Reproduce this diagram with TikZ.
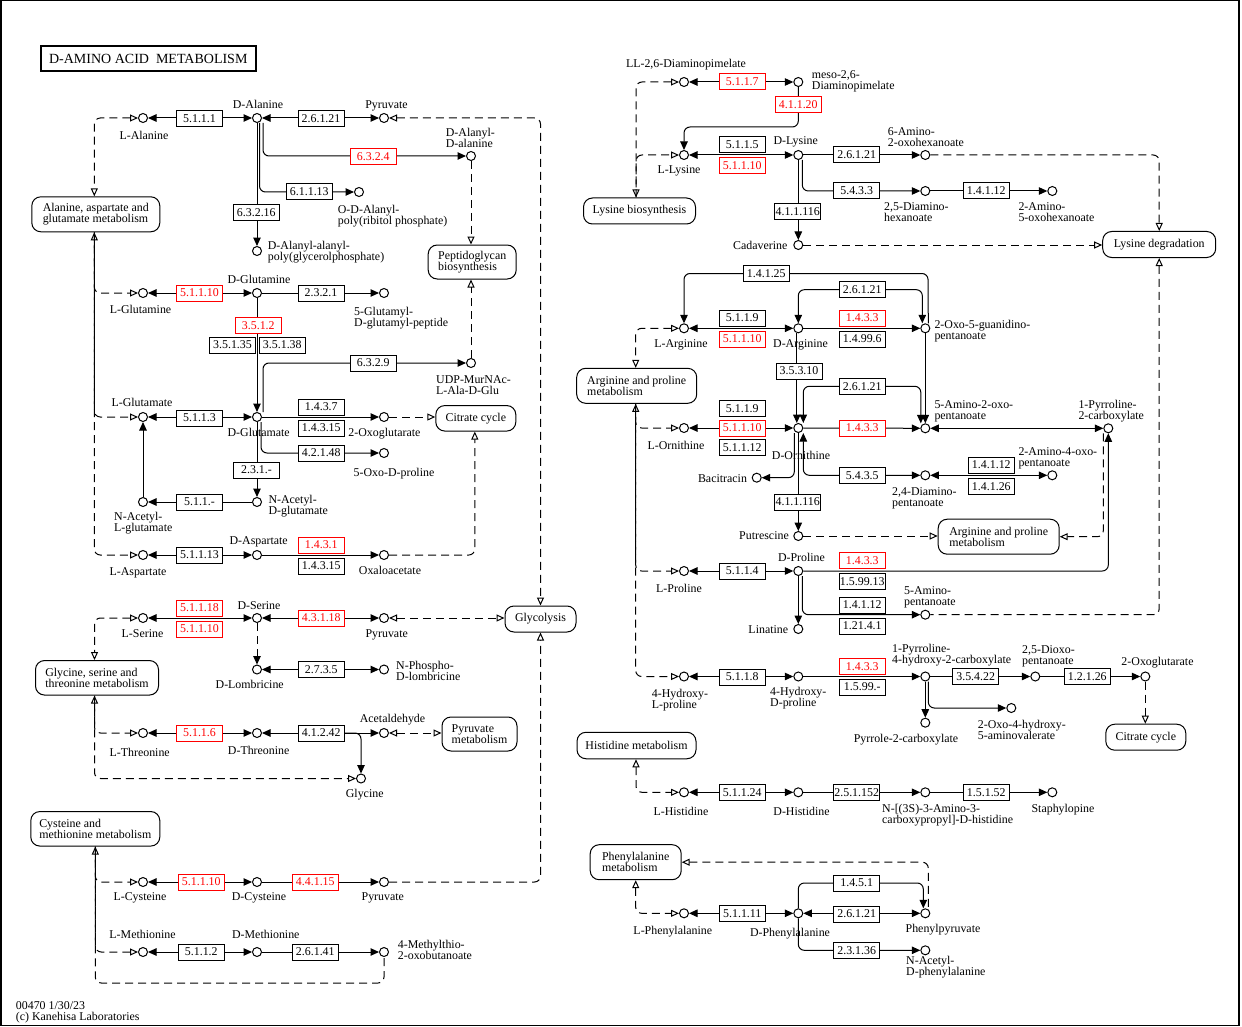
\documentclass[tikz,border=0pt]{standalone}
\usepackage{fontspec}
\setmainfont{Liberation Serif}
\usetikzlibrary{arrows.meta}
\pgfdeclarelayer{bg}
\pgfsetlayers{bg,main}
\newcommand\lblf{\fontsize{11.9pt}{11pt}\selectfont}
\newcommand\ttlf{\fontsize{14pt}{14pt}\selectfont}
\definecolor{keggred}{RGB}{255,0,0}
\tikzset{
  fillt/.tip={Triangle[length=8.5pt,width=7.5pt]},
  opent/.tip={Triangle[open,length=8pt,width=7pt]},
  cpd/.style={circle,draw,fill=white,minimum size=9pt,inner sep=0pt,line width=1pt},
  ec/.style={draw,fill=white,minimum width=46pt,minimum height=16pt,inner sep=0pt,line width=1pt,font=\lblf},
  ecr/.style={ec,draw=keggred,text=keggred},
  mapbox/.style={draw,fill=white,rounded corners=9pt,inner sep=0pt,line width=1pt,align=left,font=\lblf},
  lb/.style={inner sep=0pt,font=\lblf,anchor=base},
  lbm/.style={inner sep=0pt,font=\lblf,align=left,anchor=north west},
  rxn/.style={line width=1pt,rounded corners=6pt},
  lnk/.style={line width=1pt,dash pattern=on 8pt off 5pt,rounded corners=6pt},
}
\begin{document}
\begin{tikzpicture}[x=1pt,y=-1pt]
\useasboundingbox (0,0) rectangle (1242,1027);
\draw[line width=1.5pt] (0.75,0.75) rectangle (1238.8,1025.5);
\node[draw,line width=2pt,minimum width=215pt,minimum height=25pt,inner sep=0pt,font=\ttlf] (title) at (148.3,58.5) {D-AMINO ACID\ \ METABOLISM};

% ---------- compounds (left) ----------
\node[cpd] (LAla) at (143,118) {};
\node[cpd] (DAla) at (257,118) {};
\node[cpd] (PyrA) at (384,118) {};
\node[cpd] (DAlaAla) at (471,156) {};
\node[cpd] (ODAla) at (359,192) {};
\node[cpd] (DAAPG) at (257,251) {};
\node[cpd] (LGln) at (143,293) {};
\node[cpd] (DGln) at (257,293) {};
\node[cpd] (GluPep) at (384,293) {};
\node[cpd] (UDP) at (471,363) {};
\node[cpd] (LGlu) at (143,417) {};
\node[cpd] (DGlu) at (257,417) {};
\node[cpd] (OGa) at (384,417) {};
\node[cpd] (OxoPro) at (384,453) {};
\node[cpd] (NAcDGlu) at (257,502) {};
\node[cpd] (NAcLGlu) at (143,502) {};
\node[cpd] (LAsp) at (143,555) {};
\node[cpd] (DAsp) at (257,555) {};
\node[cpd] (OAA) at (384,555) {};
\node[cpd] (LSer) at (143,618) {};
\node[cpd] (DSer) at (257,618) {};
\node[cpd] (PyrB) at (384,618) {};
\node[cpd] (DLom) at (257,669.5) {};
\node[cpd] (NPL) at (384,669.5) {};
\node[cpd] (LThr) at (143,733) {};
\node[cpd] (DThr) at (257,733) {};
\node[cpd] (Acald) at (384,733) {};
\node[cpd] (Gly) at (361,778.5) {};
\node[cpd] (LCys) at (143,882) {};
\node[cpd] (DCys) at (257,882) {};
\node[cpd] (PyrC) at (384,882) {};
\node[cpd] (LMet) at (143,952) {};
\node[cpd] (DMet) at (257,952) {};
\node[cpd] (MTOB) at (384,952) {};

% ---------- compounds (right) ----------
\node[cpd] (LLDAP) at (684,82) {};
\node[cpd] (mDAP) at (798.3,82) {};
\node[cpd] (LLys) at (684,155) {};
\node[cpd] (DLys) at (798.3,155) {};
\node[cpd] (AOH) at (925.3,155) {};
\node[cpd] (DAH) at (925.3,191) {};
\node[cpd] (AOH2) at (1052.3,191) {};
\node[cpd] (Cad) at (798.3,245) {};
\node[cpd] (LArg) at (684,328.3) {};
\node[cpd] (DArg) at (798.3,328.3) {};
\node[cpd] (GOP) at (925.3,328.3) {};
\node[cpd] (LOrn) at (684,428) {};
\node[cpd] (DOrn) at (798.3,428) {};
\node[cpd] (AOP) at (925.3,428.3) {};
\node[cpd] (P2C) at (1108.3,428.3) {};
\node[cpd] (DAP) at (925.3,475.3) {};
\node[cpd] (AOP2) at (1052.3,475.3) {};
\node[cpd] (Bac) at (756.7,477.7) {};
\node[cpd] (Put) at (798.3,536) {};
\node[cpd] (LPro) at (684,571) {};
\node[cpd] (DPro) at (798.3,571) {};
\node[cpd] (APA) at (925.3,614.7) {};
\node[cpd] (Lin) at (798.3,629) {};
\node[cpd] (LHyp) at (684,676.5) {};
\node[cpd] (DHyp) at (798.3,676.5) {};
\node[cpd] (PHC) at (925.3,676.5) {};
\node[cpd] (DOP) at (1035.3,676.5) {};
\node[cpd] (OGb) at (1145.3,676.5) {};
\node[cpd] (P2Ca) at (925.3,722.7) {};
\node[cpd] (OHAV) at (1011.3,708) {};
\node[cpd] (LHis) at (684,792.3) {};
\node[cpd] (DHis) at (798.3,792.3) {};
\node[cpd] (NAC) at (925.3,792.3) {};
\node[cpd] (Staph) at (1052.3,792.3) {};
\node[cpd] (LPhe) at (684,913.3) {};
\node[cpd] (DPhe) at (798.3,913.3) {};
\node[cpd] (PPY) at (925.3,913.3) {};
\node[cpd] (NAcPhe) at (925.3,950.3) {};

% ---------- enzymes (left) ----------
\node[ec] (e1) at (199.5,118.5) {5.1.1.1};
\node[ec] (e2) at (321,118.5) {2.6.1.21};
\node[ecr] (e3) at (373.3,156.5) {6.3.2.4};
\node[ec] (e4) at (309.3,192) {6.1.1.13};
\node[ec] (e5) at (256.3,213) {6.3.2.16};
\node[ecr] (e6) at (199.5,293) {5.1.1.10};
\node[ec] (e7) at (321,293) {2.3.2.1};
\node[ecr] (e8) at (258.3,325.7) {3.5.1.2};
\node[ec] (e9) at (232.5,345) {3.5.1.35};
\node[ec] (e10) at (282.3,345) {3.5.1.38};
\node[ec] (e11) at (373.3,363) {6.3.2.9};
\node[ec] (e12) at (199.5,418) {5.1.1.3};
\node[ec] (e13) at (321.3,407) {1.4.3.7};
\node[ec] (e14) at (321.3,428) {1.4.3.15};
\node[ec] (e15) at (321.3,453) {4.2.1.48};
\node[ec] (e16) at (256.5,470) {2.3.1.-};
\node[ec] (e17) at (199.5,502) {5.1.1.-};
\node[ec] (e18) at (199.5,555) {5.1.1.13};
\node[ecr] (e19) at (321.3,545) {1.4.3.1};
\node[ec] (e20) at (321.3,566) {1.4.3.15};
\node[ecr] (e21) at (199.5,608) {5.1.1.18};
\node[ecr] (e22) at (199.5,629) {5.1.1.10};
\node[ecr] (e23) at (321.3,618) {4.3.1.18};
\node[ec] (e24) at (321.3,669.5) {2.7.3.5};
\node[ecr] (e25) at (199.5,733) {5.1.1.6};
\node[ec] (e26) at (321.3,733) {4.1.2.42};
\node[ecr] (e27) at (201.3,882) {5.1.1.10};
\node[ecr] (e28) at (315.3,882) {4.4.1.15};
\node[ec] (e29) at (201.3,952) {5.1.1.2};
\node[ec] (e30) at (315.3,952) {2.6.1.41};

% ---------- enzymes (right) ----------
\node[ecr] (e31) at (742.3,82) {5.1.1.7};
\node[ecr] (e32) at (798.3,105) {4.1.1.20};
\node[ec] (e33) at (742.3,145) {5.1.1.5};
\node[ecr] (e34) at (742.3,166) {5.1.1.10};
\node[ec] (e35) at (856.7,155) {2.6.1.21};
\node[ec] (e36) at (856.7,191) {5.4.3.3};
\node[ec] (e37) at (986.3,191) {1.4.1.12};
\node[ec] (e38) at (797.7,212) {4.1.1.116};
\node[ec] (e39) at (766.3,273.5) {1.4.1.25};
\node[ec] (e40) at (742.3,318) {5.1.1.9};
\node[ecr] (e41) at (742.3,339) {5.1.1.10};
\node[ec] (e42) at (862.3,289.7) {2.6.1.21};
\node[ecr] (e43) at (862.3,318) {1.4.3.3};
\node[ec] (e44) at (862.3,339) {1.4.99.6};
\node[ec] (e45) at (799,371) {3.5.3.10};
\node[ec] (e46) at (742.3,408.7) {5.1.1.9};
\node[ecr] (e47) at (742.3,428) {5.1.1.10};
\node[ec] (e48) at (742.3,447.3) {5.1.1.12};
\node[ec] (e49) at (862.3,386.3) {2.6.1.21};
\node[ecr] (e50) at (862.3,428) {1.4.3.3};
\node[ec] (e51) at (862.3,475.3) {5.4.3.5};
\node[ec] (e52) at (991.3,465) {1.4.1.12};
\node[ec] (e53) at (991.3,486.3) {1.4.1.26};
\node[ec] (e54) at (797.7,502) {4.1.1.116};
\node[ec] (e55) at (742.3,571) {5.1.1.4};
\node[ecr] (e56) at (862.3,560.7) {1.4.3.3};
\node[ec] (e57) at (862.3,581.7) {1.5.99.13};
\node[ec] (e58) at (862.3,605) {1.4.1.12};
\node[ec] (e59) at (862.3,626) {1.21.4.1};
\node[ec] (e60) at (742.3,677) {5.1.1.8};
\node[ecr] (e61) at (862.3,666.7) {1.4.3.3};
\node[ec] (e62) at (862.3,687) {1.5.99.-};
\node[ec] (e63) at (975.7,676.5) {3.5.4.22};
\node[ec] (e64) at (1087.3,676.5) {1.2.1.26};
\node[ec] (e65) at (742.3,792.3) {5.1.1.24};
\node[ec] (e66) at (856.7,792.3) {2.5.1.152};
\node[ec] (e67) at (986.3,792.3) {1.5.1.52};
\node[ec] (e68) at (742.3,913.3) {5.1.1.11};
\node[ec] (e69) at (856.7,883) {1.4.5.1};
\node[ec] (e70) at (856.7,914) {2.6.1.21};
\node[ec] (e71) at (856.7,950.8) {2.3.1.36};

% ---------- map boxes ----------
\node[mapbox,minimum width=128pt,minimum height=35pt] (AAG) at (95.8,214.3) {Alanine, aspartate and\\glutamate metabolism};
\node[mapbox,minimum width=88pt,minimum height=34pt] (Pept) at (472.2,262) {Peptidoglycan\\biosynthesis};
\node[mapbox,minimum width=80pt,minimum height=25.5pt] (CitL) at (475.8,418.3) {Citrate cycle};
\node[mapbox,minimum width=71pt,minimum height=26pt] (Glyco) at (540.5,619) {Glycolysis};
\node[mapbox,minimum width=123pt,minimum height=34.5pt] (GST) at (97,677.8) {Glycine, serine and\\threonine metabolism};
\node[mapbox,minimum width=75pt,minimum height=34pt] (PyrM) at (479.5,734) {Pyruvate\\metabolism};
\node[mapbox,minimum width=129pt,minimum height=34.5pt] (CysMet) at (95.3,828.8) {Cysteine and\\methionine metabolism};
\node[mapbox,minimum width=112pt,minimum height=26pt] (LysBio) at (639.5,211) {Lysine biosynthesis};
\node[mapbox,minimum width=113pt,minimum height=26pt] (LysDeg) at (1159.2,244.5) {Lysine degradation};
\node[mapbox,minimum width=120pt,minimum height=35pt] (ArgProL) at (636.7,385.8) {Arginine and proline\\metabolism};
\node[mapbox,minimum width=121pt,minimum height=35pt] (ArgProR) at (998.7,536.7) {Arginine and proline\\metabolism};
\node[mapbox,minimum width=80pt,minimum height=26pt] (CitR) at (1145.8,737.2) {Citrate cycle};
\node[mapbox,minimum width=119pt,minimum height=26.5pt] (HisM) at (636.5,745.5) {Histidine metabolism};
\node[mapbox,minimum width=91pt,minimum height=35pt] (PheM) at (635.7,862.2) {Phenylalanine\\metabolism};

% ---------- labels (left) ----------
\node[lb] (lLAla) at (144,139.3) {L-Alanine};
\node[lb] (lDAla) at (258,109) {D-Alanine};
\node[lb] (lPyrA) at (386.5,108.5) {Pyruvate};
\node[lb] (lDGln) at (259,283.3) {D-Glutamine};
\node[lb] (lLGln) at (140.5,313.3) {L-Glutamine};
\node[lb] (lLGlu) at (142,406.7) {L-Glutamate};
\node[lb] (lDGlu) at (258.7,436.7) {D-Glutamate};
\node[lb] (lOGa) at (384.5,436.7) {2-Oxoglutarate};
\node[lb] (lOxoPro) at (394,476) {5-Oxo-D-proline};
\node[lb] (lDAsp) at (258.7,544) {D-Aspartate};
\node[lb] (lLAsp) at (138,575.5) {L-Aspartate};
\node[lb] (lOAA) at (390,574) {Oxaloacetate};
\node[lb] (lDSer) at (259,609) {D-Serine};
\node[lb] (lLSer) at (142.5,637.3) {L-Serine};
\node[lb] (lPyrB) at (386.7,637.3) {Pyruvate};
\node[lb] (lDLom) at (249.7,688.3) {D-Lombricine};
\node[lb] (lLThr) at (139.7,756) {L-Threonine};
\node[lb] (lDThr) at (258.7,754.3) {D-Threonine};
\node[lb] (lAcald) at (392.5,722.7) {Acetaldehyde};
\node[lb] (lGly) at (364.7,797.3) {Glycine};
\node[lb] (lLCys) at (140,900) {L-Cysteine};
\node[lb] (lDCys) at (259,900) {D-Cysteine};
\node[lb] (lPyrC) at (382.8,900) {Pyruvate};
\node[lb] (lLMet) at (142.5,938.3) {L-Methionine};
\node[lb] (lDMet) at (265.8,938.3) {D-Methionine};
\node[lbm] (lDAlaAla) at (445.7,128) {D-Alanyl-\\D-alanine};
\node[lbm] (lODAla) at (337.7,205.5) {O-D-Alanyl-\\poly(ribitol phosphate)};
\node[lbm] (lDAAPG) at (267.7,241.5) {D-Alanyl-alanyl-\\poly(glycerolphosphate)};
\node[lbm] (lGluPep) at (354,307.5) {5-Glutamyl-\\D-glutamyl-peptide};
\node[lbm] (lUDP) at (436,375) {UDP-MurNAc-\\L-Ala-D-Glu};
\node[lbm] (lNAcDGlu) at (268.3,495) {N-Acetyl-\\D-glutamate};
\node[lbm] (lNAcLGlu) at (114,512.5) {N-Acetyl-\\L-glutamate};
\node[lbm] (lNPL) at (396,661.5) {N-Phospho-\\D-lombricine};
\node[lbm] (lMTOB) at (397.7,940.5) {4-Methylthio-\\2-oxobutanoate};
\node[lbm] (footer) at (15.7,1001) {00470 1/30/23\\(c) Kanehisa Laboratories};

% ---------- labels (right) ----------
\node[lb] (lLLDAP) at (686,67.7) {LL-2,6-Diaminopimelate};
\node[lb] (lLLys) at (679,174) {L-Lysine};
\node[lb] (lDLys) at (795.7,145) {D-Lysine};
\node[lb] (lCad) at (760.3,249.3) {Cadaverine};
\node[lb] (lLArg) at (681,347.3) {L-Arginine};
\node[lb] (lDArg) at (800.5,347.3) {D-Arginine};
\node[lb] (lLOrn) at (676,449) {L-Ornithine};
\node[lb] (lDOrn) at (801,459) {D-Ornithine};
\node[lb] (lBac) at (722.5,482.7) {Bacitracin};
\node[lb] (lPut) at (764,539.3) {Putrescine};
\node[lb] (lDPro) at (801.5,561) {D-Proline};
\node[lb] (lLPro) at (679,592.3) {L-Proline};
\node[lb] (lLin) at (768.3,633.3) {Linatine};
\node[lb] (lOGb) at (1157.5,665) {2-Oxoglutarate};
\node[lb] (lP2Ca) at (906,742.7) {Pyrrole-2-carboxylate};
\node[lb] (lLHis) at (681,815.7) {L-Histidine};
\node[lb] (lDHis) at (801.5,815) {D-Histidine};
\node[lb] (lStaph) at (1063,812.3) {Staphylopine};
\node[lb] (lLPhe) at (672.8,934.3) {L-Phenylalanine};
\node[lb] (lDPhe) at (790,936.7) {D-Phenylalanine};
\node[lb] (lPPY) at (943,932.3) {Phenylpyruvate};
\node[lbm] (lmDAP) at (811.7,70.5) {meso-2,6-\\Diaminopimelate};
\node[lbm] (lAOH) at (887.7,127) {6-Amino-\\2-oxohexanoate};
\node[lbm] (lDAH) at (884,202) {2,5-Diamino-\\hexanoate};
\node[lbm] (lAOH2) at (1018.3,202) {2-Amino-\\5-oxohexanoate};
\node[lbm] (lGOP) at (934.3,320) {2-Oxo-5-guanidino-\\pentanoate};
\node[lbm] (lAOP) at (934.3,400.5) {5-Amino-2-oxo-\\pentanoate};
\node[lbm] (lP2C) at (1078.3,400.5) {1-Pyrroline-\\2-carboxylate};
\node[lbm] (lDAP) at (892,487) {2,4-Diamino-\\pentanoate};
\node[lbm] (lAOP2) at (1018.3,447) {2-Amino-4-oxo-\\pentanoate};
\node[lbm] (lAPA) at (904,586.5) {5-Amino-\\pentanoate};
\node[lbm] (lPHC) at (892,644) {1-Pyrroline-\\4-hydroxy-2-carboxylate};
\node[lbm] (lDOP) at (1022,645) {2,5-Dioxo-\\pentanoate};
\node[lbm] (lLHyp) at (651.7,689) {4-Hydroxy-\\L-proline};
\node[lbm] (lDHyp) at (770,687.5) {4-Hydroxy-\\D-proline};
\node[lbm] (lOHAV) at (977.7,720) {2-Oxo-4-hydroxy-\\5-aminovalerate};
\node[lbm] (lNAC) at (882,804) {N-[(3S)-3-Amino-3-\\carboxypropyl]-D-histidine};
\node[lbm] (lNAcPhe) at (906,956.5) {N-Acetyl-\\D-phenylalanine};

% corner coordinates
\coordinate (c1) at (798.3,127);
\coordinate (c2) at (928,273.5);
\coordinate (c3) at (922.3,289.7);
\coordinate (c4) at (920.8,386.3);
\coordinate (c5) at (923.3,883);
\coordinate (c6) at (384,983);

\begin{pgfonlayer}{bg}
% ---- left ----
\draw[rxn,fillt-fillt] (LAla) -- (DAla);
\draw[rxn,fillt-fillt] (DAla) -- (PyrA);
\draw[lnk,opent-opent] (PyrA) -| (Glyco.north);
\draw[rxn,-fillt] ([xshift=6pt]DAla.south) |- (DAlaAla);
\draw[rxn,-fillt] ([xshift=2.5pt]DAla.south) |- (ODAla);
\draw[rxn,-fillt] (DAla) -- (DAAPG);
\draw[lnk,-opent] (DAlaAla) -- (DAlaAla |- Pept.north);
\draw[lnk,-opent] (UDP) -- (UDP |- Pept.south);
\draw[lnk,opent-opent] (LAla) -| ([xshift=-1.5pt]AAG.north);
\draw[lnk,opent-opent] ([xshift=-1.5pt]AAG.south) |- (LAsp);
\draw[lnk,-opent] ([xshift=-1.5pt]AAG.south) |- (LGln);
\draw[lnk,-opent] ([xshift=-1.5pt]AAG.south) |- (LGlu);
\draw[rxn,fillt-fillt] (LGln) -- (DGln);
\draw[rxn,-fillt] (DGln) -- (GluPep);
\draw[rxn,-fillt] (DGln) -- (DGlu);
\draw[rxn,fillt-fillt] (LGlu) -- (DGlu);
\draw[rxn,-fillt] (DGlu) -- (OGa);
\draw[lnk,-opent] (OGa) -- (OGa -| CitL.west);
\draw[rxn,-fillt] ([xshift=6pt]DGlu.north) |- (UDP);
\draw[rxn,-fillt] ([xshift=4pt]DGlu.south) |- (OxoPro);
\draw[rxn,-fillt] (DGlu) -- (NAcDGlu);
\draw[rxn,-fillt] (NAcDGlu) -- (NAcLGlu);
\draw[rxn,-fillt] (NAcLGlu) -- (LGlu);
\draw[rxn,fillt-fillt] (LAsp) -- (DAsp);
\draw[rxn,-fillt] (DAsp) -- (OAA);
\draw[lnk,-opent] (OAA) -| ([xshift=-1pt]CitL.south);
\draw[rxn,fillt-fillt] (LSer) -- (DSer);
\draw[rxn,fillt-fillt] (DSer) -- (PyrB);
\draw[lnk,opent-opent] (PyrB) -- (PyrB -| Glyco.west);
\draw[lnk,-fillt] (DSer) -- (DLom);
\draw[rxn,fillt-fillt] (DLom) -- (NPL);
\draw[lnk,opent-opent] (LSer) -| ([xshift=-2.5pt]GST.north);
\draw[lnk,opent-opent] ([xshift=-2.5pt]GST.south) |- (Gly);
\draw[lnk,-opent] ([xshift=-2.5pt]GST.south) |- (LThr);
\draw[rxn,fillt-fillt] (LThr) -- (DThr);
\draw[rxn,fillt-fillt] (DThr) -- (Acald);
\draw[rxn,-fillt] (e26.east) -| (Gly);
\draw[lnk,opent-opent] (Acald) -- (Acald -| PyrM.west);
\draw[lnk,-opent] (PyrC) -| (Glyco.south);
\draw[lnk,opent-] (CysMet.south) |- (c6) -- (MTOB);
\draw[lnk,-opent] (CysMet.south) |- (LCys);
\draw[lnk,-opent] (CysMet.south) |- (LMet);
\draw[rxn,fillt-fillt] (LCys) -- (DCys);
\draw[rxn,-fillt] (DCys) -- (PyrC);
\draw[rxn,fillt-fillt] (LMet) -- (DMet);
\draw[rxn,-fillt] (DMet) -- (MTOB);
% ---- right: lysine ----
\draw[rxn,fillt-fillt] (LLDAP) -- (mDAP);
\draw[rxn,-fillt] (mDAP) -- (c1) -| (LLys);
\draw[lnk,opent-opent] (LLDAP) -| ([xshift=-3.5pt]LysBio.north);
\draw[lnk,-opent] ([xshift=-3.5pt]LysBio.north) |- (LLys);
\draw[rxn,fillt-fillt] (LLys) -- (DLys);
\draw[rxn,-fillt] (DLys) -- (AOH);
\draw[rxn,-fillt] ([xshift=4pt]DLys.south) |- (DAH);
\draw[rxn,-fillt] (DAH) -- (AOH2);
\draw[rxn,-fillt] (DLys) -- (Cad);
\draw[lnk,-opent] (Cad) -- (Cad -| LysDeg.west);
\draw[lnk,-opent] (AOH) -| (LysDeg.north);
\draw[lnk,opent-] (LysDeg.south) |- (APA);
% ---- right: arginine / ornithine ----
\draw[rxn,fillt-fillt] (LArg) -- (DArg);
\draw[rxn,fillt-] (LArg) |- (c2) -- ([xshift=3pt]GOP.north);
\draw[rxn,fillt-fillt] (DArg) |- (c3) -- ([xshift=-3pt]GOP.north);
\draw[rxn,-fillt] (DArg) -- (GOP);
\draw[rxn,-fillt] ([xshift=-1.5pt]DArg.south) -- ([xshift=-1.5pt]DOrn.north);
\draw[rxn,fillt-fillt] ([xshift=5pt]DOrn.north) |- (c4) -- ([xshift=-4.5pt]AOP.north);
\draw[rxn,-fillt] (GOP) -- (AOP);
\draw[rxn,fillt-fillt] (LOrn) -- (DOrn);
\draw[rxn,-fillt] (DOrn) -- (AOP);
\draw[rxn,fillt-fillt] (AOP) -- (P2C);
\draw[rxn,fillt-fillt] ([xshift=5pt]DOrn.south) |- (DAP);
\draw[rxn,fillt-fillt] (DAP) -- (AOP2);
\draw[rxn,-fillt] ([xshift=-4pt]DOrn.south) |- (Bac);
\draw[rxn,-fillt] (DOrn) -- (Put);
\draw[lnk,-opent] (Put) -- (Put -| ArgProR.west);
\draw[lnk,-opent] ([xshift=-5pt]P2C.south) |- (ArgProR);
\draw[lnk,opent-opent] (LArg) -| ([xshift=-1pt]ArgProL.north);
\draw[lnk,-opent] ([xshift=-1pt]ArgProL.south) |- (LOrn);
\draw[lnk,-opent] ([xshift=-1pt]ArgProL.south) |- (LPro);
\draw[lnk,opent-opent] ([xshift=-1pt]ArgProL.south) |- (LHyp);
% ---- proline ----
\draw[rxn,fillt-fillt] (LPro) -- (DPro);
\draw[rxn,-fillt] (DPro) -| (P2C);
\draw[rxn,-fillt] (DPro) -- (Lin);
\draw[rxn,-fillt] ([xshift=4pt]DPro.south) |- (APA);
% ---- hydroxyproline ----
\draw[rxn,fillt-fillt] (LHyp) -- (DHyp);
\draw[rxn,-fillt] (DHyp) -- (PHC);
\draw[rxn,-fillt] (PHC) -- (DOP);
\draw[rxn,-fillt] (DOP) -- (OGb);
\draw[lnk,-opent] (OGb) -- (OGb |- CitR.north);
\draw[rxn,-fillt] (PHC) -- (P2Ca);
\draw[rxn,-fillt] ([xshift=3pt]PHC.south) |- (OHAV);
% ---- histidine ----
\draw[lnk,opent-opent] ([xshift=-0.5pt]HisM.south) |- (LHis);
\draw[rxn,fillt-fillt] (LHis) -- (DHis);
\draw[rxn,-fillt] (DHis) -- (NAC);
\draw[rxn,-fillt] (NAC) -- (Staph);
% ---- phenylalanine ----
\draw[lnk,opent-opent] (PheM.south) |- (LPhe);
\draw[lnk,opent-] (PheM) -| ([xshift=3pt]PPY.north);
\draw[rxn,fillt-fillt] (LPhe) -- (DPhe);
\draw[rxn,fillt-fillt] (DPhe) -- (PPY);
\draw[rxn,-fillt] (DPhe) |- (c5) -- ([xshift=-2pt]PPY.north);
\draw[rxn,-fillt] (DPhe) |- (NAcPhe);
\end{pgfonlayer}
\end{tikzpicture}
\end{document}
